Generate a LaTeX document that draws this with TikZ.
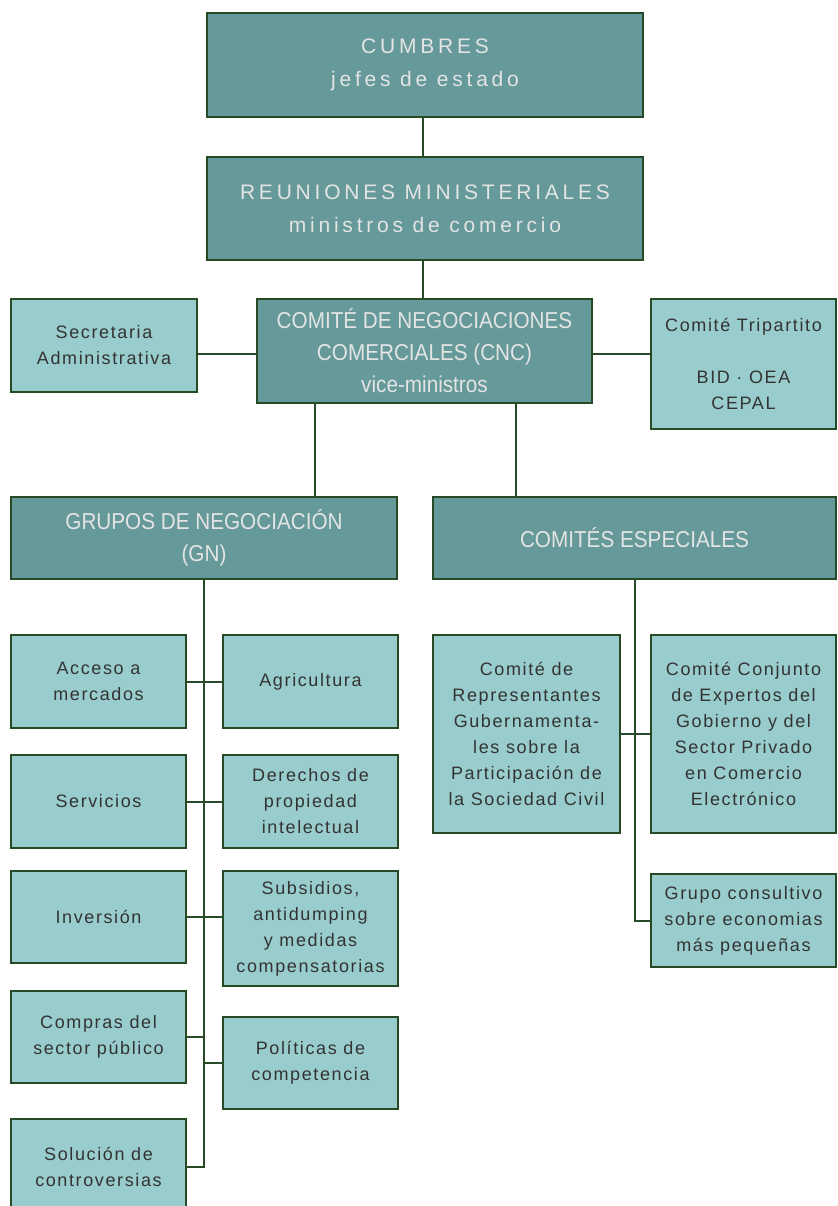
\documentclass[tikz,border=0pt]{standalone}
\usepackage{fontspec}
\setmainfont{Liberation Sans}
\newfontfamily\widefont[LetterSpace=18]{Liberation Sans}
\newfontfamily\litefont[LetterSpace=9]{Liberation Sans}
\newfontfamily\condfont[FakeStretch=0.9]{Liberation Sans}
\definecolor{darkfill}{HTML}{669999}
\definecolor{lightfill}{HTML}{99CCCC}
\definecolor{bord}{HTML}{264A26}
\definecolor{dtext}{HTML}{E4E4E4}
\definecolor{ltext}{HTML}{333333}
\tikzset{
  dk/.style={draw=bord, line width=2pt, fill=darkfill, text=dtext, align=center, inner sep=0pt},
  dkwide/.style={dk, font=\widefont\fontsize{21}{33}\selectfont},
  dkcond/.style={dk, font=\condfont\fontsize{23}{32}\selectfont},
  lt/.style={draw=bord, line width=2pt, fill=lightfill, text=ltext, align=center, inner sep=0pt, font=\litefont\fontsize{18}{26}\selectfont},
  ln/.style={draw=bord, line width=2pt}
}
\begin{document}
\begin{tikzpicture}[x=1pt,y=-1pt]
\clip (0,0) rectangle (837,1206);
\fill[white] (0,0) rectangle (837,1206);
% top chain
\node[dkwide, minimum width=436pt, minimum height=104pt] (cum) at (425,65) {CUMBRES\\jefes de estado};
\node[dkwide, minimum width=436pt, minimum height=103pt] (reu) at (425,208.5) {REUNIONES MINISTERIALES\\ministros de comercio};
\node[dkcond, minimum width=335pt, minimum height=104pt] (cnc) at (424.5,351) {COMITÉ DE NEGOCIACIONES\\COMERCIALES (CNC)\\vice-ministros};
\node[lt, minimum width=186pt, minimum height=93pt] (sec) at (104,345.5) {Secretaria\\Administrativa};
\node[lt, minimum width=185pt, minimum height=130pt] (tri) at (743.5,364) {Comité Tripartito\\\mbox{}\\BID · OEA\\CEPAL};
\node[dkcond, minimum width=386pt, minimum height=82pt] (gn) at (204,538) {GRUPOS DE NEGOCIACIÓN\\(GN)};
\node[dkcond, minimum width=403pt, minimum height=82pt] (ce) at (634.5,538) {COMITÉS ESPECIALES};
% left column
\node[lt, minimum width=175pt, minimum height=93pt] (acc) at (98.5,681.5) {Acceso a\\mercados};
\node[lt, minimum width=175pt, minimum height=93pt] (agr) at (310.5,681.5) {Agricultura};
\node[lt, minimum width=175pt, minimum height=93pt] (ser) at (98.5,801.5) {Servicios};
\node[lt, minimum width=175pt, minimum height=93pt] (der) at (310.5,801.5) {Derechos de\\propiedad\\intelectual};
\node[lt, minimum width=175pt, minimum height=92pt] (inv) at (98.5,917) {Inversión};
\node[lt, minimum width=175pt, minimum height=115pt] (sub) at (310.5,928.5) {Subsidios,\\antidumping\\y medidas\\compensatorias};
\node[lt, minimum width=175pt, minimum height=92pt] (com) at (98.5,1037) {Compras del\\sector público};
\node[lt, minimum width=175pt, minimum height=92pt] (pol) at (310.5,1063) {Políticas de\\competencia};
\node[lt, minimum width=175pt, minimum height=96pt] (sol) at (98.5,1167) {Solución de\\controversias};
% right column
\node[lt, minimum width=187pt, minimum height=198pt] (rep) at (526.5,734) {Comité de\\Representantes\\Gubernamenta-\\les sobre la\\Participación de\\la Sociedad Civil};
\node[lt, minimum width=185pt, minimum height=198pt] (con) at (743.5,734) {Comité Conjunto\\de Expertos del\\Gobierno y del\\Sector Privado\\en Comercio\\Electrónico};
\node[lt, minimum width=185pt, minimum height=93pt] (gru) at (743.5,920.5) {Grupo consultivo\\sobre economias\\más pequeñas};
% connectors
\coordinate (topx) at (423,0);
\coordinate (secy) at (0,354);
\coordinate (gnx) at (315,0);
\coordinate (cex) at (516,0);
\draw[ln] (cum.south -| topx) -- (reu.north -| topx);
\draw[ln] (reu.south -| topx) -- (cnc.north -| topx);
\draw[ln] (sec.east |- secy) -- (cnc.west |- secy);
\draw[ln] (cnc.east |- secy) -- (tri.west |- secy);
\draw[ln] (cnc.south -| gnx) -- (gn.north -| gnx);
\draw[ln] (cnc.south -| cex) -- (ce.north -| cex);
\draw[ln] (gn.south) -- (gn.south |- sol.east) -- (sol.east);
\draw[ln] (acc.east) -- (agr.west);
\draw[ln] (ser.east) -- (der.west);
\draw[ln] (inv.east) -- (inv.east -| sub.west);
\draw[ln] (com.east) -- (com.east -| gn.south);
\draw[ln] (gn.south |- pol.west) -- (pol.west);
\draw[ln] (ce.south) -- (ce.south |- gru.west) -- (gru.west);
\draw[ln] (rep.east) -- (con.west);
\end{tikzpicture}
\end{document}
